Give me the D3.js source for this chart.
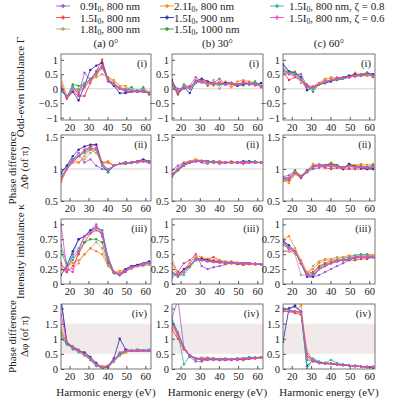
<!DOCTYPE html><html><head><meta charset="utf-8"><script src="https://cdn.jsdelivr.net/npm/d3@7"></script>
<style>body{margin:0;background:#fff}text{font-family:"Times New Roman","Liberation Serif",Tinos,serif !important;fill:#222}</style></head><body><svg id="c" width="400" height="400"></svg><script>
const energies=[15.5,18.6,21.7,24.8,27.9,31,34.1,37.2,40.3,43.4,46.5,49.6,52.7,55.8,58.9,62];
const seriesNames=["0.9I|0|, 800 nm","1.5I|0|, 800 nm","1.8I|0|, 800 nm","2.1I|0|, 800 nm","1.5I|0|, 900 nm","1.5I|0|, 1000 nm","1.5I|0|, 800 nm, ζ = 0.8","1.5I|0|, 800 nm, ζ = 0.6"];
const colors=["#a05cc8","#f03c3c","#c89a80","#ff8c1a","#2a2aa8","#3c9c3c","#30b4ac","#ff3ccc"];
const colTitles=["(a) 0°","(b) 30°","(c) 60°"];
const rowTags=["(i)","(ii)","(iii)","(iv)"];
const xTicks=[20,30,40,50,60];
const yTicks1=[-1,-0.5,0,0.5,1], yTicks2=[0.5,1,1.5], yTicks3=[0,0.25,0.5,0.75,1], yTicks4=[0,0.5,1,1.5,2];
// Row (i) odd-even imbalance
const G_a=[[0.1,-0.3,0.1,-0.2,0.55,0.3,0.6,0.8,0.25,0.1,0,-0.05,-0.1,-0.05,-0.1,-0.15],[0.1,-0.35,-0.1,-0.25,-0.25,0.2,0.6,1.0,0.3,0.2,0,-0.1,-0.1,-0.1,-0.1,-0.15],[0.2,-0.25,0,-0.1,0.05,0.25,0.45,0.7,0.4,0.25,0.05,0,-0.05,-0.1,-0.05,-0.15],[0.4,-0.3,-0.05,0,0.1,0.3,0.4,0.5,0.4,0.3,0.1,0.1,-0.05,-0.1,-0.05,-0.1],[0.0,-0.3,-0.1,-0.4,0.1,0.65,0.8,0.9,0.3,0.1,-0.15,-0.15,-0.1,-0.1,-0.1,-0.15],[-0.05,-0.3,0.15,0.1,0.15,0.35,0.55,0.8,0.35,0.15,0,-0.05,0.05,-0.1,0.05,-0.2],[-0.1,-0.25,0.05,-0.05,0.2,0.3,0.5,0.75,0.3,0.15,0,0,-0.05,-0.1,0,-0.15],[0.1,-0.3,-0.05,-0.15,0.1,0.3,0.55,0.8,0.3,0.15,0,-0.05,-0.1,-0.1,-0.1,-0.15]];
const G_b=[[0.2,0,0,0.1,0.4,0.25,0.2,0.2,0.35,0.15,0.2,0.15,0.2,0.15,0.2,0.1],[0.1,-0.2,0.05,0,0.2,0.3,0.1,0.2,0.15,0.2,0.15,0.1,0.25,0.15,0.15,0.1],[0.2,-0.1,0,0.05,0.25,0.2,0.15,0.3,0.0,0.25,0.2,0.15,0.1,0.2,0.1,0.1],[0.25,-0.15,0.1,0,0.3,0.3,0.25,0.1,0.25,0.2,0.05,0.25,0.3,0.25,0.2,0.1],[0.3,-0.15,0.05,-0.15,0.25,0.35,0.25,0.2,0.15,0.2,0.2,0.1,0.15,0.2,0.15,0.2],[0.1,-0.15,0.15,0.05,0.25,0.25,0.2,0.15,0.2,0.15,0.2,0.15,0.2,0.15,0.25,0.05],[0.15,-0.1,0.1,0,0.2,0.25,0.2,0.2,0.15,0.15,0.2,0.15,0.2,0.15,0.2,0.1],[0.15,-0.1,0.05,0.05,0.25,0.25,0.2,0.2,0.2,0.15,0.2,0.15,0.2,0.2,0.15,0.1]];
const G_c=[[0.8,0.6,0.5,0.5,0.1,0.05,0.15,0.25,0.3,0.35,0.35,0.4,0.45,0.45,0.5,0.45],[0.6,0.3,0.4,0.3,0.15,0,0.15,0.2,0.3,0.3,0.35,0.4,0.45,0.45,0.45,0.45],[0.55,0.5,0.45,0.2,0.1,0.1,0.2,0.35,0.35,0.4,0.35,0.45,0.4,0.5,0.45,0.5],[0.6,0.55,0.6,0.3,0.05,0.05,0.2,0.3,0.4,0.35,0.4,0.4,0.55,0.5,0.45,0.5],[0.85,0.6,0.55,0.4,-0.05,0.05,0.15,0.2,0.25,0.35,0.4,0.45,0.5,0.45,0.55,0.5],[0.65,0.55,0.55,0.35,0.1,-0.1,0.15,0.2,0.3,0.3,0.35,0.4,0.45,0.5,0.55,0.4],[0.7,0.55,0.5,0.35,0.05,0,0.15,0.25,0.3,0.35,0.35,0.4,0.45,0.45,0.5,0.45],[0.6,0.5,0.45,0.3,0.05,0.05,0.15,0.25,0.3,0.35,0.4,0.4,0.45,0.45,0.5,0.45]];
// Row (ii) phase difference ΔΦ
const P_a=[[0.95,1.05,1.15,1.25,1.1,1.15,1.05,1.0,0.98,1.05,1.08,1.08,1.1,1.1,1.12,1.1],[0.8,1.0,1.1,1.2,1.3,1.35,1.38,1.1,1.1,1.05,1.08,1.1,1.1,1.12,1.13,1.1],[0.85,1.0,1.1,1.1,1.15,1.25,1.3,1.05,1.12,1.05,1.08,1.08,1.1,1.1,1.12,1.1],[0.8,1.0,1.15,1.1,1.2,1.3,1.25,1.1,1.12,1.05,1.08,1.1,1.1,1.12,1.12,1.1],[0.93,1.05,1.2,1.3,1.35,1.38,1.38,1.05,0.95,1.05,1.08,1.1,1.1,1.12,1.15,1.12],[0.85,1.0,1.15,1.2,1.28,1.33,1.3,1.1,0.95,1.05,1.08,1.08,1.1,1.12,1.12,1.12],[0.88,1.02,1.15,1.2,1.25,1.3,1.3,1.05,0.98,1.05,1.08,1.1,1.1,1.12,1.12,1.1],[0.85,1.0,1.12,1.2,1.28,1.32,1.33,1.08,1.0,1.05,1.08,1.1,1.1,1.12,1.12,1.1]];
const P_b=[[0.98,1.05,1.1,1.12,1.13,1.1,1.08,1.12,1.08,1.1,1.1,1.1,1.1,1.1,1.1,1.1],[0.88,0.98,1.05,1.1,1.12,1.12,1.12,1.1,1.12,1.1,1.1,1.1,1.08,1.1,1.1,1.1],[0.9,1.0,1.1,1.12,1.15,1.12,1.1,1.12,1.1,1.1,1.12,1.1,1.1,1.1,1.1,1.1],[0.9,1.0,1.08,1.12,1.15,1.13,1.12,1.1,1.12,1.1,1.12,1.1,1.1,1.1,1.1,1.1],[0.92,1.0,1.08,1.1,1.12,1.12,1.12,1.1,1.1,1.1,1.1,1.1,1.12,1.12,1.1,1.1],[0.88,0.98,1.05,1.1,1.12,1.13,1.12,1.12,1.1,1.1,1.1,1.1,1.1,1.1,1.12,1.1],[0.9,1.0,1.06,1.1,1.12,1.12,1.11,1.11,1.1,1.1,1.1,1.1,1.1,1.1,1.1,1.1],[0.9,1.0,1.07,1.11,1.12,1.12,1.11,1.1,1.1,1.1,1.1,1.1,1.1,1.1,1.1,1.1]];
const P_c=[[0.88,0.9,0.97,0.88,0.95,1.0,1.02,1.05,1.03,1.04,1.02,1.04,1.03,1.04,1.02,1.03],[0.82,0.82,0.92,0.86,0.95,1.05,1.05,1.02,1.0,1.02,1.0,1.0,1.0,1.0,1.0,1.0],[0.85,0.85,0.95,0.9,0.96,1.05,1.08,1.05,1.06,1.05,1.03,1.05,1.05,1.04,1.03,1.03],[0.82,0.78,0.92,0.88,0.98,1.08,1.06,1.05,1.1,1.05,1.02,1.08,1.06,1.08,1.06,1.08],[0.86,0.86,0.95,0.87,0.96,1.04,1.06,1.06,1.08,1.06,1.0,1.08,1.04,1.02,1.0,1.0],[0.84,0.84,0.98,0.88,0.98,1.02,1.06,1.05,1.08,1.06,1.02,1.05,1.04,1.05,1.03,1.06],[0.85,0.85,0.95,0.88,0.96,1.04,1.06,1.05,1.05,1.04,1.02,1.04,1.03,1.03,1.02,1.03],[0.85,0.85,0.95,0.88,0.96,1.04,1.05,1.05,1.05,1.04,1.02,1.04,1.03,1.03,1.02,1.03]];
// Row (iii) intensity imbalance κ
const K_a=[[0.25,0.2,0.5,0.75,0.8,0.9,1.0,0.8,0.4,0.2,0.18,0.25,0.3,0.32,0.35,0.35],[0.35,0.2,0.3,0.5,0.7,0.85,0.9,0.85,0.45,0.2,0.15,0.2,0.28,0.3,0.33,0.35],[0.3,0.25,0.25,0.35,0.5,0.6,0.7,0.6,0.3,0.2,0.18,0.22,0.25,0.3,0.3,0.32],[0.25,0.3,0.35,0.4,0.5,0.6,0.55,0.5,0.3,0.2,0.22,0.25,0.3,0.3,0.32,0.35],[0.15,0.3,0.55,0.75,0.8,0.9,0.95,0.9,0.4,0.2,0.15,0.25,0.3,0.32,0.35,0.38],[0.55,0.3,0.4,0.55,0.7,0.75,0.75,0.7,0.35,0.18,0.15,0.22,0.28,0.3,0.32,0.35],[0.65,0.35,0.45,0.6,0.8,0.85,0.95,0.9,0.45,0.2,0.15,0.22,0.28,0.3,0.35,0.35],[1.0,0.25,0.2,0.55,0.8,0.85,0.95,0.85,0.4,0.2,0.15,0.22,0.28,0.3,0.33,0.35]];
const K_b=[[0.1,0.2,0.35,0.4,0.5,0.3,0.25,0.28,0.3,0.33,0.35,0.35,0.35,0.35,0.33,0.33],[0.35,0.2,0.2,0.3,0.4,0.42,0.42,0.45,0.4,0.35,0.35,0.33,0.32,0.33,0.33,0.33],[0.45,0.15,0.2,0.35,0.45,0.4,0.4,0.4,0.38,0.35,0.35,0.35,0.35,0.35,0.33,0.33],[0.3,0.15,0.25,0.35,0.48,0.45,0.42,0.4,0.4,0.38,0.38,0.36,0.35,0.35,0.33,0.33],[0.2,0.15,0.25,0.3,0.42,0.42,0.4,0.38,0.37,0.36,0.36,0.35,0.35,0.35,0.34,0.33],[0.18,0.12,0.2,0.3,0.4,0.4,0.38,0.37,0.36,0.35,0.35,0.35,0.35,0.35,0.34,0.33],[0.15,0.15,0.15,0.28,0.4,0.4,0.38,0.37,0.36,0.36,0.36,0.35,0.35,0.35,0.34,0.33],[0.2,0.15,0.2,0.3,0.42,0.4,0.38,0.37,0.36,0.35,0.35,0.35,0.35,0.35,0.34,0.33]];
const K_c=[[0.75,0.6,0.55,0.35,0.15,0.12,0.15,0.2,0.25,0.3,0.35,0.4,0.45,0.48,0.5,0.48],[0.55,0.55,0.55,0.35,0.18,0.2,0.3,0.35,0.38,0.4,0.4,0.4,0.4,0.42,0.42,0.45],[0.75,0.55,0.5,0.15,0.15,0.3,0.38,0.42,0.42,0.45,0.45,0.45,0.45,0.45,0.45,0.47],[0.75,0.8,0.6,0.4,0.2,0.25,0.35,0.4,0.4,0.42,0.45,0.48,0.48,0.5,0.48,0.48],[0.72,0.65,0.55,0.35,0.12,0.12,0.25,0.3,0.35,0.38,0.4,0.42,0.45,0.45,0.45,0.45],[0.65,0.6,0.55,0.35,0.15,0.18,0.28,0.33,0.35,0.38,0.4,0.42,0.43,0.45,0.45,0.45],[0.68,0.62,0.55,0.35,0.15,0.15,0.25,0.3,0.35,0.4,0.42,0.45,0.48,0.5,0.48,0.45],[0.7,0.6,0.55,0.35,0.15,0.15,0.25,0.3,0.35,0.38,0.4,0.42,0.45,0.45,0.45,0.45]];
// Row (iv) phase difference Δφ
const F_a=[[2.3,0.9,0.65,0.6,0.5,0.3,0.1,0.05,0.1,0.3,0.5,0.6,0.6,0.65,0.62,0.6],[1.0,0.85,0.72,0.62,0.5,0.35,0.15,0.05,0.05,0.25,0.45,0.55,0.6,0.6,0.6,0.6],[1.4,0.9,0.75,0.65,0.5,0.35,0.18,0.08,0.08,0.3,0.5,0.58,0.62,0.6,0.62,0.62],[1.3,0.85,0.7,0.6,0.45,0.3,0.15,0.1,0.1,0.3,0.5,0.55,0.6,0.6,0.62,0.6],[2.3,0.85,0.7,0.6,0.55,0.4,0.2,0.0,0.1,0.35,1.0,0.65,0.6,0.6,0.6,0.6],[1.2,0.85,0.75,0.62,0.5,0.35,0.15,0.05,0.05,0.3,0.5,0.6,0.6,0.62,0.62,0.62],[1.1,0.8,0.7,0.55,0.45,0.3,0.1,0.05,0.1,0.25,0.45,0.6,0.62,0.62,0.62,0.65],[1.8,0.9,0.72,0.6,0.5,0.35,0.15,0.05,0.1,0.3,0.55,0.6,0.6,0.6,0.6,0.6]];
const F_b=[[1.7,2.3,0.7,0.4,0.25,0.25,0.3,0.3,0.3,0.3,0.32,0.3,0.32,0.35,0.35,0.38],[1.3,1.0,0.65,0.45,0.35,0.3,0.32,0.33,0.3,0.3,0.3,0.32,0.3,0.33,0.35,0.38],[1.5,1.1,0.7,0.45,0.35,0.38,0.35,0.35,0.33,0.35,0.3,0.35,0.35,0.38,0.38,0.4],[1.4,1.1,0.7,0.45,0.35,0.35,0.38,0.35,0.33,0.32,0.33,0.33,0.35,0.35,0.37,0.38],[1.6,1.2,0.7,0.45,0.35,0.33,0.33,0.33,0.32,0.32,0.32,0.33,0.33,0.35,0.37,0.38],[1.55,1.15,0.7,0.42,0.35,0.33,0.35,0.35,0.33,0.33,0.32,0.35,0.35,0.36,0.37,0.38],[1.65,1.2,0.15,0.45,0.3,0.35,0.35,0.33,0.33,0.35,0.33,0.35,0.35,0.4,0.37,0.4],[1.5,1.15,0.7,0.45,0.35,0.33,0.33,0.33,0.32,0.32,0.32,0.33,0.33,0.35,0.37,0.38]];
const F_c=[[2.0,2.0,2.05,1.9,0.5,0.3,0.22,0.2,0.18,0.15,0.13,0.12,0.1,0.08,0.07,0.05],[1.9,1.9,1.85,1.8,0.5,0.25,0.2,0.18,0.17,0.15,0.13,0.12,0.1,0.08,0.06,0.05],[2.0,1.95,1.9,1.85,0.6,0.3,0.22,0.2,0.18,0.15,0.13,0.12,0.1,0.08,0.07,0.07],[2.0,1.95,1.9,2.1,0.4,0.28,0.22,0.2,0.18,0.15,0.14,0.12,0.1,0.08,0.07,0.07],[0.9,2.0,2.1,1.9,0.1,0.3,0.2,0.18,0.17,0.15,0.13,0.12,0.1,0.08,0.07,0.05],[2.0,1.95,1.9,1.88,0.3,0.28,0.2,0.2,0.18,0.15,0.13,0.12,0.1,0.08,0.07,0.08],[2.0,1.95,1.9,1.9,0.0,0.35,0.25,0.2,0.3,0.2,0.15,0.12,0.1,0.08,0.07,0.08],[1.95,1.9,1.9,1.88,0.4,0.28,0.2,0.18,0.17,0.15,0.13,0.12,0.1,0.08,0.07,0.07]];

const rows=[
 {data:[G_a,G_b,G_c],dom:[-1.08,1.2],ticks:yTicks1,top:54,bot:120,ref:0,title:["Odd-even imbalance Γ"]},
 {data:[P_a,P_b,P_c],dom:[0.5,1.53],ticks:yTicks2,top:135,bot:201,ref:1,title:["Phase difference","ΔΦ (of π)"]},
 {data:[K_a,K_b,K_c],dom:[0,1.09],ticks:yTicks3,top:219,bot:284,title:["Intensity imbalance κ"]},
 {data:[F_a,F_b,F_c],dom:[0,2.15],ticks:yTicks4,top:304,bot:369,band:[0.5,1.5],title:["Phase difference","Δφ (of π)"]}];
const cols=[[61,151],[172,263],[283,375]];
const svg=d3.select("#c");
const fmt=v=>v<0?"−"+Math.abs(v):String(v);
rows.forEach((r,ri)=>{
 cols.forEach((c,ci)=>{
  const x=d3.scaleLinear().domain([15.5,63]).range(c);
  const y=d3.scaleLinear().domain(r.dom).range([r.bot,r.top]);
  const id="clip"+ri+ci;
  svg.append("clipPath").attr("id",id).append("rect").attr("x",c[0]).attr("y",r.top).attr("width",c[1]-c[0]).attr("height",r.bot-r.top);
  const g=svg.append("g");
  if(r.band) g.append("rect").attr("x",c[0]).attr("width",c[1]-c[0]).attr("y",y(r.band[1])).attr("height",y(r.band[0])-y(r.band[1])).attr("fill","#f2eaea");
  if(r.ref!==undefined) g.append("line").attr("x1",c[0]).attr("x2",c[1]).attr("y1",y(r.ref)).attr("y2",y(r.ref)).attr("stroke","#bbb").attr("stroke-width",0.6);
  const pg=g.append("g").attr("clip-path","url(#"+id+")");
  const line=d3.line().x((d,i)=>x(energies[i])).y(d=>y(d));
  r.data[ci].forEach((s,si)=>{
   pg.append("path").attr("d",line(s)).attr("fill","none").attr("stroke",colors[si]).attr("stroke-width",0.9).attr("opacity",si==2?0.8:0.9);
   pg.selectAll(null).data(s).join("circle").attr("cx",(d,i)=>x(energies[i])).attr("cy",d=>y(d)).attr("r",1.2).attr("fill",colors[si]);
  });
  g.append("rect").attr("x",c[0]).attr("y",r.top).attr("width",c[1]-c[0]).attr("height",r.bot-r.top).attr("fill","none").attr("stroke","#555").attr("stroke-width",0.8);
  const ax=g.append("g").attr("transform","translate(0,"+r.bot+")").call(d3.axisBottom(x).tickValues(xTicks).tickSize(-3).tickPadding(4));
  const ay=g.append("g").attr("transform","translate("+c[0]+",0)").call(d3.axisLeft(y).tickValues(r.ticks).tickFormat(fmt).tickSize(-3).tickPadding(3));
  [ax,ay].forEach(a=>{a.attr("font-family",null);a.select(".domain").remove();a.selectAll("line").attr("stroke","#555");a.selectAll("text").attr("font-size",10.5).attr("fill","#222");});
  g.append("text").attr("x",c[1]-4).attr("y",r.top+13).attr("text-anchor","end").attr("font-size",10.5).text(rowTags[ri]);
  if(ri==0) svg.append("text").attr("x",(c[0]+c[1])/2).attr("y",47).attr("text-anchor","middle").attr("font-size",11).text(colTitles[ci]);
  if(ri==3) svg.append("text").attr("x",(c[0]+c[1])/2).attr("y",396).attr("text-anchor","middle").attr("font-size",11).text("Harmonic energy (eV)");
 });
 const cy=(r.top+r.bot)/2;
 r.title.forEach((t,k)=>{
  const xx=r.title.length==1?24:16+k*12;
  svg.append("text").attr("transform","translate("+xx+","+cy+") rotate(-90)").attr("text-anchor","middle").attr("font-size",11).text(t);
 });
});
// legend
const legX=[[56,80],[160,174],[270,289]];
seriesNames.forEach((n,i)=>{
 const col=Math.floor(i/3), row=i%3;
 const lx=legX[col], ly=6+row*11.5;
 svg.append("line").attr("x1",lx[0]).attr("x2",lx[0]+14).attr("y1",ly).attr("y2",ly).attr("stroke",colors[i]).attr("stroke-width",0.9);
 svg.append("path").attr("d",d3.symbol(d3.symbolCross,10)()).attr("transform","translate("+(lx[0]+7)+","+ly+")").attr("fill",colors[i]);
 const t=svg.append("text").attr("x",lx[1]).attr("y",ly+4).attr("font-size",11);
 n.split("|").forEach((p,k)=>{t.append("tspan").attr("font-size",k==1?7.5:11).attr("dy",k==1?2:(k==2?-2:0)).text(p);});
});
</script></body></html>
